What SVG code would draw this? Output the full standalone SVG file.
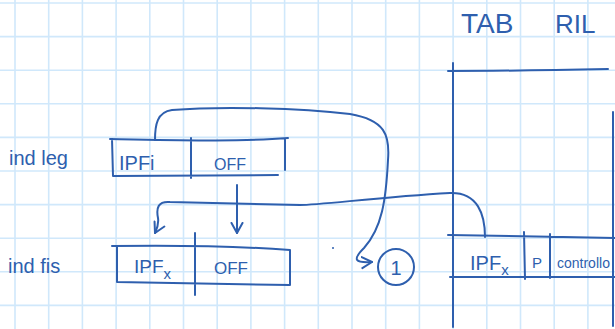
<svg xmlns="http://www.w3.org/2000/svg" width="615" height="329" viewBox="0 0 615 329">
<defs>
<style>
.grid line{stroke:#d0e8fb;stroke-width:1.6}
.ink{fill:none;stroke:#2e5fae;stroke-width:2;stroke-linecap:round;stroke-linejoin:round}
.t{fill:#2e5fae;font-family:"Liberation Sans","DejaVu Sans",sans-serif}
</style>
<marker id="arr" markerWidth="14" markerHeight="14" refX="11" refY="7" orient="auto" markerUnits="userSpaceOnUse">
<path d="M1,1.5 L11,7 L1,12.5" fill="none" stroke="#2e5fae" stroke-width="2" stroke-linecap="round" stroke-linejoin="round"/>
</marker>
</defs>
<rect width="615" height="329" fill="#ffffff"/>
<g class="grid">
<line x1="15" y1="0" x2="15" y2="329"/><line x1="48.7" y1="0" x2="48.7" y2="329"/><line x1="82.4" y1="0" x2="82.4" y2="329"/><line x1="116.1" y1="0" x2="116.1" y2="329"/><line x1="149.8" y1="0" x2="149.8" y2="329"/><line x1="183.5" y1="0" x2="183.5" y2="329"/><line x1="217.2" y1="0" x2="217.2" y2="329"/><line x1="250.9" y1="0" x2="250.9" y2="329"/><line x1="284.6" y1="0" x2="284.6" y2="329"/><line x1="318.3" y1="0" x2="318.3" y2="329"/><line x1="352" y1="0" x2="352" y2="329"/><line x1="385.7" y1="0" x2="385.7" y2="329"/><line x1="419.4" y1="0" x2="419.4" y2="329"/><line x1="453.1" y1="0" x2="453.1" y2="329"/><line x1="486.8" y1="0" x2="486.8" y2="329"/><line x1="520.5" y1="0" x2="520.5" y2="329"/><line x1="554.2" y1="0" x2="554.2" y2="329"/><line x1="587.9" y1="0" x2="587.9" y2="329"/>
<line x1="0" y1="3" x2="615" y2="3"/><line x1="0" y1="36.6" x2="615" y2="36.6"/><line x1="0" y1="70.2" x2="615" y2="70.2"/><line x1="0" y1="103.8" x2="615" y2="103.8"/><line x1="0" y1="137.4" x2="615" y2="137.4"/><line x1="0" y1="171" x2="615" y2="171"/><line x1="0" y1="204.6" x2="615" y2="204.6"/><line x1="0" y1="238.2" x2="615" y2="238.2"/><line x1="0" y1="271.8" x2="615" y2="271.8"/><line x1="0" y1="305.4" x2="615" y2="305.4"/>
</g>

<g id="label-ind-leg"><text class="t" x="9" y="165" font-size="20">ind leg</text></g>
<g id="label-ind-fis"><text class="t" x="8" y="273" font-size="20">ind fis</text></g>

<g id="ind-leg">
<path class="ink" d="M110,139 C170,140 240,142 288,138 M112,139 L113,176 L278,175 M191,138 L191,178 M285,139 L285,170"/>
<text class="t" x="119" y="170" font-size="20">IPFi</text>
<text class="t" x="214" y="170" font-size="16">OFF</text>
</g>

<g id="ind-fis">
<path class="ink" d="M112,246 C180,245 250,247 290,250 M117,247 L117,282 L290,285 M290,250 L290,285 M195,233 L195,295"/>
<text class="t" x="134" y="273" font-size="19">IPF<tspan font-size="15" dy="6">x</tspan></text>
<text class="t" x="214" y="274" font-size="17">OFF</text>
</g>

<g id="tab-ril">
<text class="t" x="461" y="33" font-size="28">TAB</text>
<text class="t" x="555" y="33" font-size="26">RIL</text>
<path class="ink" d="M453,63 L453,327 M448,71 C500,71 560,70 608,69 M613,112 L613,326"/>
<path class="ink" d="M448,235 C500,236 560,237 615,238 M450,277 L615,277 M524,232 L525,279 M550,234 L550,278"/>
<text class="t" x="470" y="270" font-size="20">IPF<tspan font-size="15" dy="5">x</tspan></text>
<text class="t" x="532" y="268" font-size="15">P</text>
<text class="t" x="557" y="268" font-size="14">controllo</text>
</g>

<g id="circle-1">
<circle class="ink" cx="396" cy="267" r="18"/>
<text class="t" x="396" y="275" font-size="20" text-anchor="middle">1</text>
</g>

<circle cx="333" cy="248" r="1" fill="#2e5fae"/>

<g id="connectors">
<path class="ink" marker-end="url(#arr)" d="M155,140 C155,125 157,112 172,110 C220,106 300,108 350,114 C385,120 390,135 388,160 C386,200 382,228 364,248 C352,260 355,263 372,262"/>
<path class="ink" marker-end="url(#arr)" d="M485,237 C485,215 478,192 450,193 C380,197 320,205 300,205 L170,202 C158,201 156,208 158,218 C159,225 157,229 155,233"/>
<path class="ink" marker-end="url(#arr)" d="M237,185 L237,233"/>
</g>
</svg>
